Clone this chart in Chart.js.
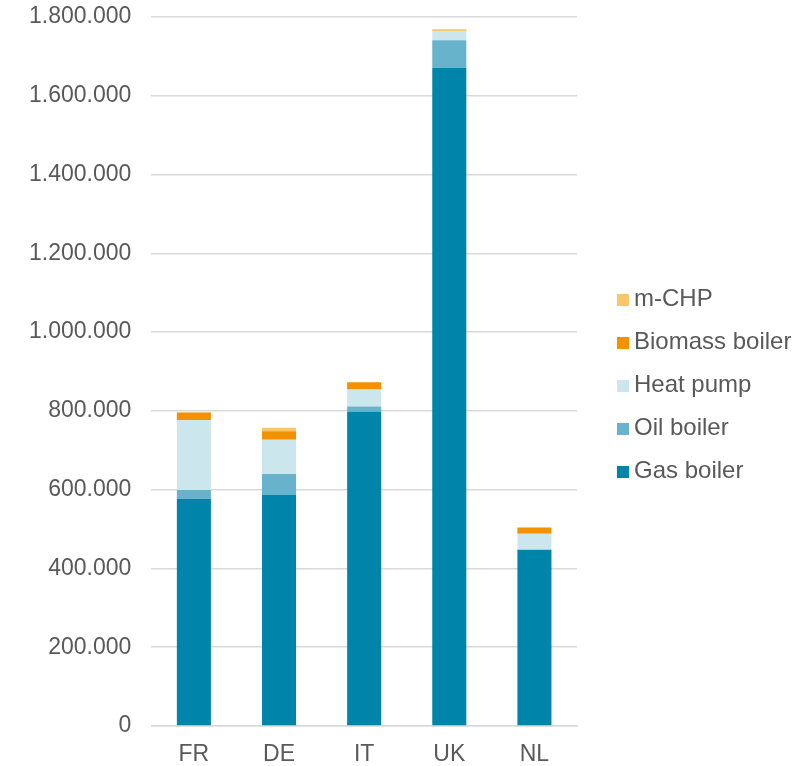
<!DOCTYPE html>
<html>
<head>
<meta charset="utf-8">
<script src="https://cdn.jsdelivr.net/npm/chart.js@4.4.1/dist/chart.umd.min.js"></script>
<style>
  html, body { margin: 0; padding: 0; background: #fff; }
  #wrap { position: relative; width: 803px; height: 766px; }
  #heatChart { display: block; }
  #legend { position: absolute; left: 617px; top: 282px; margin: 0; padding: 0; list-style: none;
            font-family: 'Liberation Sans', Arial, sans-serif; font-size: 24px; color: #595959; }
  #legend li { height: 43px; line-height: 32px; white-space: nowrap; }
  #legend span { display: inline-block; width: 12px; height: 12px; margin-right: 5px; vertical-align: 0px; }
</style>
</head>
<body>
<div id="wrap"><canvas id="heatChart" width="803" height="766"></canvas><ul id="legend"></ul></div>
<script>
const countries = ['FR', 'DE', 'IT', 'UK', 'NL'];
const gasBoiler     = [577000, 587000, 798000, 1671000, 447000];
const oilBoiler     = [22000, 53000, 13000, 70000, 1000];
const heatPump      = [178000, 87000, 43000, 23000, 40000];
const biomassBoiler = [18000, 21000, 19000, 1000, 16000];
const mCHP          = [2000, 9000, 0, 4000, 0];
const yTicks = [0, 200000, 400000, 600000, 800000, 1000000, 1200000, 1400000, 1600000, 1800000];

Chart.defaults.font.family = 'Liberation Sans, Arial, sans-serif';
Chart.defaults.color = '#595959';

const ctx = document.getElementById('heatChart');

const chart = new Chart(ctx, {
  type: 'bar',
  data: {
    labels: countries,
    datasets: [
      { label: 'Gas boiler', data: gasBoiler, backgroundColor: '#0084A9' },
      { label: 'Oil boiler', data: oilBoiler, backgroundColor: '#66B3CB' },
      { label: 'Heat pump', data: heatPump, backgroundColor: '#CCE6EE' },
      { label: 'Biomass boiler', data: biomassBoiler, backgroundColor: '#F39200' },
      { label: 'm-CHP', data: mCHP, backgroundColor: '#FBC56A' }
    ]
  },
  options: {
    responsive: false,
    animation: false,
    devicePixelRatio: 1,
    datasets: {
      bar: { categoryPercentage: 1, barPercentage: 0.4 }
    },
    layout: { padding: { top: 0, right: 226, bottom: 0, left: 9 } },
    plugins: {
      tooltip: { enabled: false },
      legend: { display: false }
    },
    scales: {
      x: {
        stacked: true,
        afterFit: axis => { axis.height = 40; },
        grid: { display: false, drawTicks: false },
        border: { color: '#d9d9d9', width: 1.5 },
        ticks: { font: { size: 23 }, padding: 15 }
      },
      y: {
        stacked: true,
        min: 0,
        max: 1800000,
        afterBuildTicks: axis => { axis.ticks = yTicks.map(v => ({ value: v })); },
        afterFit: axis => { axis.paddingTop = 17; axis.paddingBottom = 0; },
        grid: { color: '#d9d9d9', lineWidth: 1.5, drawTicks: false },
        border: { display: false },
        ticks: {
          font: { size: 23 },
          padding: 20,
          callback: v => v.toString().replace(/\B(?=(\d{3})+(?!\d))/g, '.')
        }
      }
    }
  }
});

// legend in reverse order, like the original
const legend = document.getElementById('legend');
chart.data.datasets.slice().reverse().forEach(ds => {
  const li = document.createElement('li');
  li.innerHTML = '<span style="background:' + ds.backgroundColor + '"></span>' + ds.label;
  legend.appendChild(li);
});
</script>
</body>
</html>
